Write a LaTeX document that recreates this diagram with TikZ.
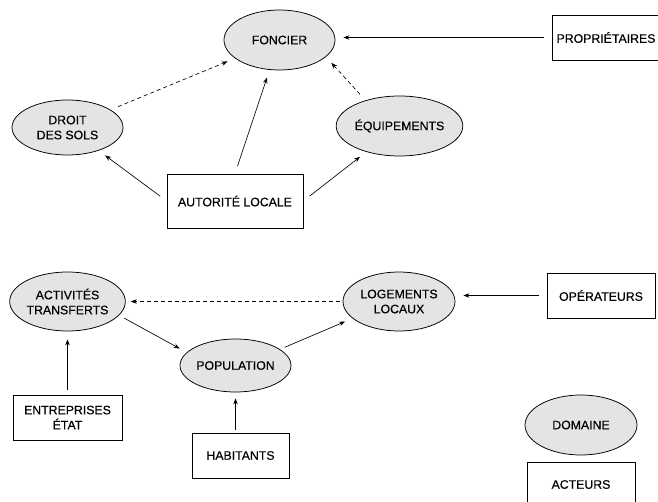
\documentclass[tikz,border=0pt]{standalone}
\usepackage{fontspec}
\setmainfont{Liberation Sans}[FakeBold=0.35]
\usetikzlibrary{shapes.geometric,arrows.meta}

\definecolor{fondgris}{HTML}{E4E4E4}

\tikzset{
	domaine/.style={ellipse, draw=black, fill=fondgris, line width=0.75pt, inner sep=0pt,
		minimum width=111pt, minimum height=58pt, align=center,
		font=\fontsize{12.3}{15}\selectfont},
	acteur/.style={rectangle, draw=black, line width=0.75pt, inner sep=0pt,
		minimum width=108pt, minimum height=45pt, align=center,
		font=\fontsize{12.3}{15}\selectfont},
	lien/.style={-{Stealth[length=6pt,width=4.5pt]}, line width=0.65pt, shorten >=8pt, shorten <=8pt},
	lienpt/.style={lien, dashed, dash pattern=on 4pt off 3pt}
}

\begin{document}
\begin{tikzpicture}[x=1pt,y=-1pt]
		\useasboundingbox (0,0) rectangle (658,502);
		
		% Domaines du haut
		\node[domaine, minimum height=60pt] (fon) at (279.5,40) {FONCIER};
		\node[domaine, minimum height=55pt] (drt) at (67.5,127.5) {DROIT\\ DES SOLS};
		\node[domaine, minimum height=60pt] (equ) at (399.5,126) {ÉQUIPEMENTS};
		
		% Acteurs du haut
		\node[acteur] (pro) at (606,37.5) {PROPRIÉTAIRES};
		\node[acteur, minimum width=136pt, minimum height=54pt] (aut) at (235,201) {AUTORITÉ LOCALE};
		
		\draw[lien] (pro.west) -- (fon.east |- pro.west);
		\draw[lien] (aut.north) -- (fon);
		\draw[lien] (aut.west) -- (drt);
		\draw[lien] (aut.east) -- (equ);
		\draw[lienpt] (drt) -- (fon);
		\draw[lienpt] (equ.143) -- (fon.-20);
		
		% Domaines du bas
		\node[domaine, minimum height=59pt] (act) at (67.5,301.5) {ACTIVITÉS\\ TRANSFERTS};
		\node[domaine, minimum height=53pt] (pop) at (235.5,365.5) {POPULATION};
		\node[domaine, minimum width=112pt, minimum height=59pt] (log) at (399,301.5) {LOGEMENTS\\ LOCAUX};
		
		% Acteurs du bas
		\node[acteur] (opr) at (601,295.5) {OPÉRATEURS};
		\node[acteur, minimum width=109pt] (ent) at (67.5,417.5) {ENTREPRISES\\ ÉTAT};
		\node[acteur, minimum width=97pt] (hab) at (240.5,455.5) {HABITANTS};
		
		\draw[lienpt, shorten <=3pt, shorten >=5pt] (log.west) -- (act.east);
		\draw[lien, shorten <=6pt] (act.-15) -- (pop.165);
		\draw[lien, shorten <=5pt] (pop.20) -- (log.200);
		\draw[lien] (opr.west) -- (log.east |- opr.west);
		\draw[lien, shorten <=5pt] (ent) -- (act);
		\draw[lien, shorten <=3pt, shorten >=6pt] (hab.north -| pop) -- (pop.south);
		
		% Legende
		\node[domaine, minimum width=112pt, minimum height=60pt] (leg1) at (581,425) {DOMAINE};
		\node[acteur] (leg2) at (581,484.5) {ACTEURS};
	\end{tikzpicture}
\end{document}
